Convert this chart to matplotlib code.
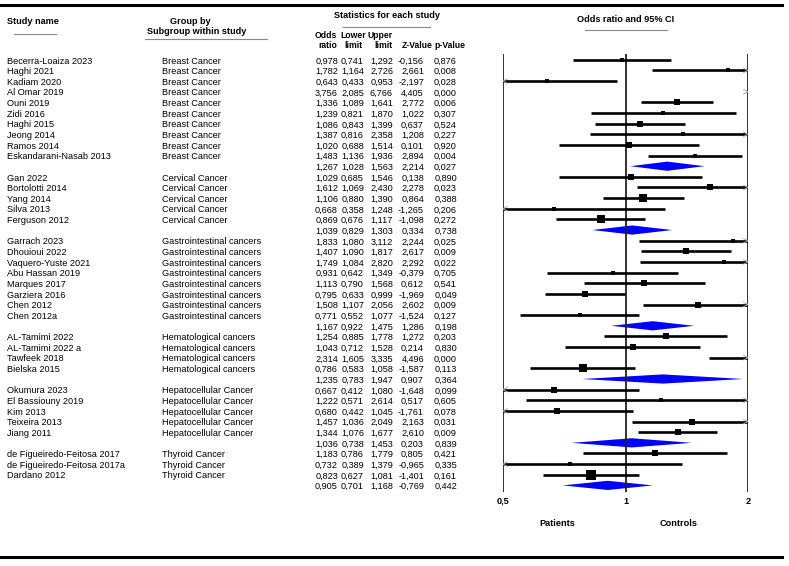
import matplotlib
matplotlib.use("Agg")
import matplotlib.pyplot as plt
from matplotlib.patches import Polygon

plt.rcParams['font.family'] = ['Liberation Sans', 'DejaVu Sans']

groups = ["Breast Cancer", "Cervical Cancer", "Gastrointestinal cancers",
          "Hematological cancers", "Hepatocellular Cancer", "Thyroid Cancer"]

study_names = [
    "Becerra-Loaiza 2023", "Haghi 2021", "Kadiam 2020", "Al Omar 2019", "Ouni 2019",
    "Zidi 2016", "Haghi 2015", "Jeong 2014", "Ramos 2014", "Eskandarani-Nasab 2013",
    "Gan 2022", "Bortolotti 2014", "Yang 2014", "Silva 2013", "Ferguson 2012",
    "Garrach 2023", "Dhouioui 2022", "Vaquero-Yuste 2021", "Abu Hassan 2019",
    "Marques 2017", "Garziera 2016", "Chen 2012", "Chen 2012a",
    "AL-Tamimi 2022", "AL-Tamimi 2022 a", "Tawfeek 2018", "Bielska 2015",
    "Okumura 2023", "El Bassiouny 2019", "Kim 2013", "Teixeira 2013", "Jiang 2011",
    "de Figueiredo-Feitosa 2017", "de Figueiredo-Feitosa 2017a", "Dardano 2012",
]
study_group = [0] * 10 + [1] * 5 + [2] * 8 + [3] * 4 + [4] * 5 + [5] * 3

odds = [0.978, 1.782, 0.643, 3.756, 1.336, 1.239, 1.086, 1.387, 1.020, 1.483,
        1.029, 1.612, 1.106, 0.668, 0.869,
        1.833, 1.407, 1.749, 0.931, 1.113, 0.795, 1.508, 0.771,
        1.254, 1.043, 2.314, 0.786,
        0.667, 1.222, 0.680, 1.457, 1.344,
        1.183, 0.732, 0.823]
lower = [0.741, 1.164, 0.433, 2.085, 1.089, 0.821, 0.843, 0.816, 0.688, 1.136,
         0.685, 1.069, 0.880, 0.358, 0.676,
         1.080, 1.090, 1.084, 0.642, 0.790, 0.633, 1.107, 0.552,
         0.885, 0.712, 1.605, 0.583,
         0.412, 0.571, 0.442, 1.036, 1.076,
         0.786, 0.389, 0.627]
upper = [1.292, 2.726, 0.953, 6.766, 1.641, 1.870, 1.399, 2.358, 1.514, 1.936,
         1.546, 2.430, 1.390, 1.248, 1.117,
         3.112, 1.817, 2.820, 1.349, 1.568, 0.999, 2.056, 1.077,
         1.778, 1.528, 3.335, 1.058,
         1.080, 2.614, 1.045, 2.049, 1.677,
         1.779, 1.379, 1.081]
zval = [-0.156, 2.661, -2.197, 4.405, 2.772, 1.022, 0.637, 1.208, 0.101, 2.894,
        0.138, 2.278, 0.864, -1.265, -1.098,
        2.244, 2.617, 2.292, -0.379, 0.612, -1.969, 2.602, -1.524,
        1.272, 0.214, 4.496, -1.587,
        -1.648, 0.517, -1.761, 2.163, 2.610,
        0.805, -0.965, -1.401]
pval = [0.876, 0.008, 0.028, 0.000, 0.006, 0.307, 0.524, 0.227, 0.920, 0.004,
        0.890, 0.023, 0.388, 0.206, 0.272,
        0.025, 0.009, 0.022, 0.705, 0.541, 0.049, 0.009, 0.127,
        0.203, 0.830, 0.000, 0.113,
        0.099, 0.605, 0.078, 0.031, 0.009,
        0.421, 0.335, 0.161]
# relative weight (drives the square size)
weight = [4, 4, 4, 4, 5, 3.5, 5, 3.5, 4.5, 4,
          5, 5, 6.5, 3.5, 6.5,
          3.5, 5, 4, 4, 4.5, 5, 4.5, 4,
          6, 6, 6, 6.5,
          5, 3.5, 5, 5, 6,
          6, 4, 8]

sum_odds = [1.267, 1.039, 1.167, 1.235, 1.036, 0.905]
sum_lower = [1.028, 0.829, 0.922, 0.783, 0.738, 0.701]
sum_upper = [1.563, 1.303, 1.475, 1.947, 1.453, 1.168]
sum_z = [2.214, 0.334, 1.286, 0.907, 0.203, -0.769]
sum_p = [0.027, 0.738, 0.198, 0.364, 0.839, 0.442]

W, H = 789, 566
fig = plt.figure(figsize=(W / 100, H / 100), dpi=100)
tx = fig.add_axes([0, 0, 1, 1])
tx.set_xlim(0, W)
tx.set_ylim(H, 0)
tx.axis('off')

x_lo, x_hi = 503, 748
fx = fig.add_axes([x_lo / W, 0, (x_hi - x_lo) / W, 1])
fx.set_xscale('log')
fx.set_xlim(0.5, 2)
fx.set_ylim(H, 0)
fx.axis('off')

fs = 6.6
num_x = [338, 364, 393, 424, 457]


def fmt(v):
    return f"{v:.3f}".replace('.', ',')


def numbers(y, vals):
    for xx, v in zip(num_x, vals):
        tx.text(xx, y, fmt(v), ha='right', va='center', fontsize=fs)


def bold(x, y, s, ha='left', size=fs):
    tx.text(x, y, s, fontsize=size, fontweight='bold', va='center', ha=ha)


# frame lines
tx.plot([0, 782], [5, 5], color='black', lw=2.2)
tx.plot([0, 782], [557, 557], color='black', lw=2.2)

# headers
bold(7, 22, "Study name")
tx.plot([14, 56], [34, 34], color='#888888', lw=0.8)
bold(190, 22, "Group by", 'center')
bold(197, 31, "Subgroup within study", 'center')
tx.plot([145, 267], [38.5, 38.5], color='#888888', lw=0.8)
bold(387, 16, "Statistics for each study", 'center')
tx.plot([343, 430], [27, 27], color='#888888', lw=0.8)
bold(626, 20, "Odds ratio and 95% CI", 'center')
tx.plot([585, 667], [30, 30], color='#888888', lw=0.8)
hs = 6.2
bold(337, 35, "Odds", 'right', hs)
bold(340, 35, "Lower", 'left', hs)
bold(368, 35, "Upper", 'left', hs)
bold(337, 45, "ratio", 'right', hs)
bold(363, 45, "limit", 'right', hs)
bold(393, 45, "limit", 'right', hs)
bold(433, 45, "Z-Value", 'right', hs)
bold(465, 45, "p-Value", 'right', hs)

# forest axes
fx.vlines([0.5, 1, 2], 54, 492, color='#222222', lw=1.3)
for v, lbl in zip([0.5, 1, 2], ["0,5", "1", "2"]):
    fx.text(v, 501, lbl, fontsize=fs, fontweight='bold', ha='center', va='center')
bold(557, 524, "Patients", 'center')
bold(679, 524, "Controls", 'center')

y0, dy = 61, 10.64
ah = 2.2
row = 0


def arrow(y, side):
    if side > 0:
        fx.plot([2 / 1.025, 2, 2 / 1.025], [y - ah, y, y + ah], color='#aaaaaa', lw=0.7)
    else:
        fx.plot([0.5 * 1.025, 0.5, 0.5 * 1.025], [y - ah, y, y + ah], color='#aaaaaa', lw=0.7)


for g, gname in enumerate(groups):
    for i in [k for k, s in enumerate(study_group) if s == g]:
        y = y0 + row * dy
        tx.text(7, y, study_names[i], fontsize=fs, va='center')
        tx.text(162, y, gname, fontsize=fs, va='center')
        numbers(y, [odds[i], lower[i], upper[i], zval[i], pval[i]])
        lo, hi = max(lower[i], 0.5), min(upper[i], 2)
        yc = y - 1.2
        if lo < hi:
            fx.plot([lo, hi], [yc, yc], color='black', lw=1.9, solid_capstyle='butt')
        if 0.5 <= odds[i] <= 2:
            fx.plot(odds[i], yc, 's', color='black', ms=weight[i] * 0.82, mew=0)
        if upper[i] > 2:
            arrow(yc, 1)
        if lower[i] < 0.5:
            arrow(yc, -1)
        row += 1
    y = y0 + row * dy
    numbers(y, [sum_odds[g], sum_lower[g], sum_upper[g], sum_z[g], sum_p[g]])
    yc = y - 1.2
    fx.add_patch(Polygon([(sum_lower[g], yc), (sum_odds[g], yc - 4.6),
                          (sum_upper[g], yc), (sum_odds[g], yc + 4.6)],
                         closed=True, color='#0000ff', lw=0))
    row += 1

fig.savefig("out.png", dpi=100)
